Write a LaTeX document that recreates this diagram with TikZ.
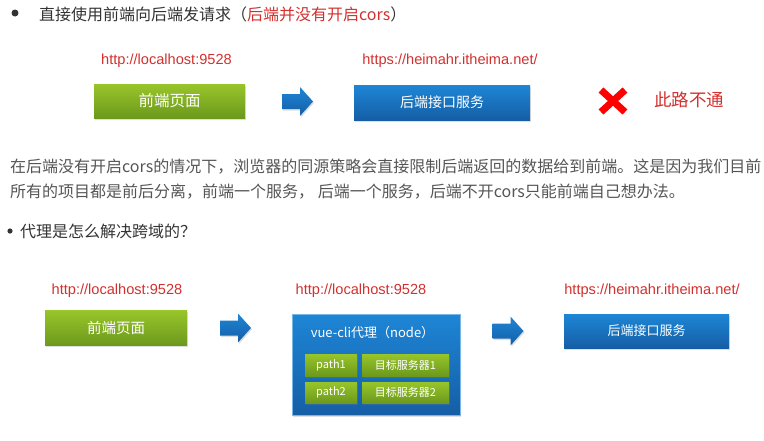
\documentclass[tikz,border=0pt]{standalone}
\usepackage{fontspec}
\setmainfont{Noto Sans CJK SC}
\newfontfamily\urlfont{Liberation Sans}
\usetikzlibrary{shadows}
\definecolor{greentop}{HTML}{98C52A}
\definecolor{greenbot}{HTML}{6C991C}
\definecolor{bluetop}{HTML}{1E86D6}
\definecolor{bluebot}{HTML}{155EA6}
\definecolor{urlred}{HTML}{D2302E}
\definecolor{headgray}{HTML}{333333}
\definecolor{bodygray}{HTML}{555555}
\definecolor{xred}{HTML}{FF0000}
\begin{document}
\begin{tikzpicture}[x=1pt,y=-1pt,
  shadowed/.style={drop shadow={shadow xshift=1pt,shadow yshift=-1.5pt,opacity=0.25}},
  greenbox/.style={shadowed, top color=greentop, bottom color=greenbot, text=white, inner sep=0pt},
  bluebox/.style={shadowed, top color=bluetop, bottom color=bluebot, text=white, inner sep=0pt},
  url/.style={text=urlred, font=\urlfont\fontsize{14.6}{17}\selectfont, inner sep=0pt},
  blockarrow/.pic={\shade[shadowed, top color=bluetop, bottom color=bluebot]
     (-15.5,-7.5) -- (2.5,-7.5) -- (2.5,-14.5) -- (15.5,0) -- (2.5,14.5) -- (2.5,7.5) -- (-15.5,7.5) -- cycle;}
]
\useasboundingbox (0,0) rectangle (764,440);
% heading 1
\fill[headgray] (15,13) circle (3.5);
\node[anchor=west, inner sep=0pt, text=headgray, font=\fontsize{16}{19}\selectfont] (h1) at (39,14)
  {直接使用前端向后端发请求（\textcolor{urlred}{后端并没有开启cors}）};
% row 1
\node[url] (u1) at (166.5,61) {http://localhost:9528};
\node[url] (u2) at (450,61) {https://heimahr.itheima.net/};
\node[greenbox, minimum width=151pt, minimum height=34pt, font=\fontsize{15.5}{18}\selectfont] (g1) at (169.5,101) {前端页面};
\node[bluebox, minimum width=176pt, minimum height=35pt, font=\fontsize{14}{17}\selectfont] (b1) at (442,102.5) {后端接口服务};
\pic at (297.5,101.5) {blockarrow};
\draw[xred, line width=7pt] (601,90) -- (625,112) (601,112) -- (625,90);
\node[anchor=west, inner sep=0pt, text=urlred, font=\fontsize{17.5}{20}\selectfont] (no) at (654,100) {此路不通};
% paragraph
\node[anchor=west, inner sep=0pt, text=bodygray, font=\fontsize{16}{19}\selectfont] (p1) at (10,167)
  {在后端没有开启cors的情况下，浏览器的同源策略会直接限制后端返回的数据给到前端。这是因为我们目前};
\node[anchor=west, inner sep=0pt, text=bodygray, font=\fontsize{16}{19}\selectfont] (p2) at (10,192)
  {所有的项目都是前后分离，前端一个服务， 后端一个服务，后端不开cors只能前端自己想办法。};
% heading 2
\fill[headgray] (10,231) circle (2.6);
\node[anchor=west, inner sep=0pt, text=headgray, font=\fontsize{16}{19}\selectfont] (h2) at (20,231) {代理是怎么解决跨域的？};
% row 2
\node[url] (u3) at (117,291) {http://localhost:9528};
\node[url] (u4) at (361,291) {http://localhost:9528};
\node[url] (u5) at (652,291) {https://heimahr.itheima.net/};
\node[greenbox, minimum width=142pt, minimum height=35pt, font=\fontsize{14.5}{17}\selectfont] (g2) at (116,328) {前端页面};
\pic at (235.5,328) {blockarrow};
\node[bluebox, draw=bluetop!60!white, minimum width=168pt, minimum height=101pt] (px) at (376,364.5) {};
\node[inner sep=0pt, text=white, font=\fontsize{13}{16}\selectfont] (pxl) at (372.5,333) {vue-cli代理（node）};
\node[greenbox, minimum width=52pt, minimum height=22pt, font=\fontsize{11}{13}\selectfont] (p1b) at (331,365) {path1};
\node[greenbox, minimum width=87pt, minimum height=22pt, font=\fontsize{11}{13}\selectfont] (t1) at (405.5,365) {目标服务器1};
\node[greenbox, minimum width=52pt, minimum height=21pt, font=\fontsize{11}{13}\selectfont] (p2b) at (331,392.5) {path2};
\node[greenbox, minimum width=87pt, minimum height=21pt, font=\fontsize{11}{13}\selectfont] (t2) at (405.5,392.5) {目标服务器2};
\pic at (508,331) {blockarrow};
\node[bluebox, minimum width=165pt, minimum height=34pt, font=\fontsize{13}{16}\selectfont] (b2) at (646.5,331) {后端接口服务};
\end{tikzpicture}
\end{document}
